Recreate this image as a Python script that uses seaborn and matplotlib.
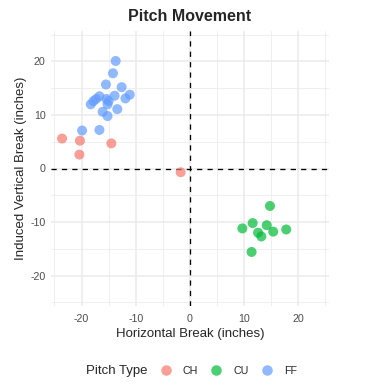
import pandas as pd
import seaborn as sns
import matplotlib.pyplot as plt
from matplotlib.lines import Line2D

# pitch data (inches)
ch_x = [-23.6, -20.3, -14.5, -20.4, -1.7]
ch_y = [5.6, 5.2, 4.7, 2.6, -0.7]
cu_x = [14.8, 11.6, 14.2, 9.7, 12.6, 13.2, 15.4, 17.8, 11.4]
cu_y = [-7.0, -10.2, -10.6, -11.2, -12.0, -12.7, -11.8, -11.4, -15.6]
ff_x = [-13.7, -14.2, -15.5, -12.6, -13.9, -11.1, -11.9, -16.7, -17.3, -17.8,
        -18.3, -15.4, -15.0, -15.2, -13.4, -16.1, -15.2, -19.9, -16.7]
ff_y = [20.1, 17.8, 15.7, 15.2, 13.6, 13.8, 13.1, 13.5, 13.0, 12.6,
        12.0, 13.0, 12.6, 12.0, 11.1, 10.6, 9.8, 7.1, 7.2]
pitch_types = ['CH', 'CU', 'FF']
colors = ['#F8766D', '#00BA38', '#619CFF']

df = pd.DataFrame({
    'hb': ch_x + cu_x + ff_x,
    'ivb': ch_y + cu_y + ff_y,
    'pitch': ['CH'] * len(ch_x) + ['CU'] * len(cu_x) + ['FF'] * len(ff_x),
})

sns.set_style('white')
plt.rcParams['font.family'] = ['Liberation Sans', 'DejaVu Sans']
plt.rcParams['axes.unicode_minus'] = False

W, H = 374, 392
fig = plt.figure(figsize=(W / 72, H / 72), dpi=72)
ax = fig.add_axes([50.7 / W, (H - 306) / H, 278.3 / W, 275 / H])

lim = 25.7
ax.set_xlim(-lim, lim)
ax.set_ylim(-lim, lim)
for v in [-25, -15, -5, 5, 15, 25]:
    ax.axvline(v, color='#EBEBEB', lw=0.8, zorder=0)
    ax.axhline(v, color='#EBEBEB', lw=0.8, zorder=0)
for v in [-20, -10, 0, 10, 20]:
    ax.axvline(v, color='#EBEBEB', lw=1.5, zorder=0)
    ax.axhline(v, color='#EBEBEB', lw=1.5, zorder=0)

ax.axhline(0, color='black', lw=1.3, ls=(0, (4, 4)), zorder=1)
ax.axvline(0, color='black', lw=1.3, ls=(0, (4, 4)), zorder=1)

sns.scatterplot(data=df, x='hb', y='ivb', hue='pitch', hue_order=pitch_types,
                palette=colors, s=100, alpha=0.7, edgecolor='none',
                legend=False, ax=ax, zorder=2)

ax.set_xticks([-20, -10, 0, 10, 20])
ax.set_yticks([-20, -10, 0, 10, 20])
ax.tick_params(length=0, labelsize=10.6, labelcolor='#4D4D4D')
ax.tick_params(axis='x', pad=8)
ax.tick_params(axis='y', pad=5)
for s in ax.spines.values():
    s.set_visible(False)

ax.set_xlabel('Horizontal Break (inches)', fontsize=13.3, labelpad=4)
ax.set_ylabel('Induced Vertical Break (inches)', fontsize=13.3, labelpad=3)
ax.set_title('Pitch Movement', fontsize=16, fontweight='bold', pad=10)

handles = [Line2D([], [], ls='none', marker='o', markersize=10.5,
                  markerfacecolor=c, markeredgecolor='none', alpha=0.7)
           for c in colors]
fig.text(86 / W, 21 / H, 'Pitch Type', fontsize=13.3, ha='left', va='center')
fig.legend(handles, pitch_types, loc='center left',
           bbox_to_anchor=(160.7 / W, 21 / H), ncol=3, frameon=False,
           fontsize=10.6, borderpad=0, handlelength=1.0, handletextpad=1.1,
           columnspacing=1.2, borderaxespad=0)

fig.savefig('out.png', dpi=72, facecolor='white')
